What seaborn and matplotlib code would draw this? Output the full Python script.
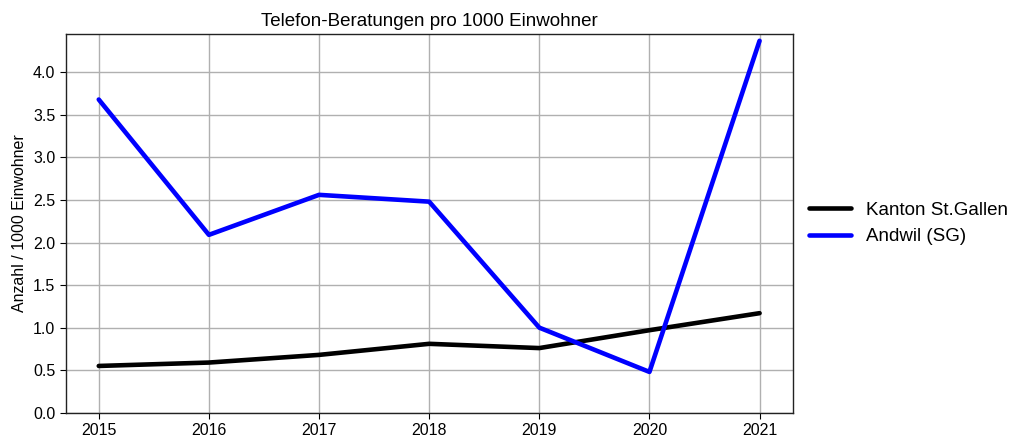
import matplotlib
matplotlib.use("Agg")
import matplotlib.pyplot as plt
import seaborn as sns
import pandas as pd

years = [2015, 2016, 2017, 2018, 2019, 2020, 2021]
kanton = [0.55, 0.59, 0.68, 0.81, 0.76, 0.97, 1.17]
andwil = [3.68, 2.09, 2.56, 2.48, 1.00, 0.48, 4.37]

df = pd.DataFrame({
    "Jahr": years * 2,
    "Wert": kanton + andwil,
    "Region": ["Kanton St.Gallen"] * len(years) + ["Andwil (SG)"] * len(years),
})

sns.set_style("ticks")
plt.rcParams['font.family'] = ['Liberation Sans', 'DejaVu Sans']
plt.rcParams['text.color'] = 'black'
plt.rcParams['axes.labelcolor'] = 'black'

fig = plt.figure(figsize=(10.11, 4.41), dpi=100)
ax = fig.add_axes([0.065, 0.064, 0.719, 0.859])

sns.lineplot(data=df, x="Jahr", y="Wert", hue="Region",
             palette={"Kanton St.Gallen": "black", "Andwil (SG)": "blue"},
             linewidth=3.3, ax=ax)

ax.grid(True, color="#b0b0b0", linewidth=1)
ax.set_axisbelow(True)
ax.set_ylim(0, 4.45)
yt = [0, 0.5, 1.0, 1.5, 2.0, 2.5, 3.0, 3.5, 4.0]
ax.set_yticks(yt)
ax.set_yticklabels([f"{v:.1f}" for v in yt])
ax.set_xticks(years)
ax.set_xlim(2014.7, 2021.3)
ax.tick_params(labelsize=11.5, colors="black", direction="out", length=4)
for s in ax.spines.values():
    s.set_color("#222222")
    s.set_linewidth(1)

ax.set_xlabel("")
ax.set_ylabel("Anzahl / 1000 Einwohner", fontsize=11.5)
ax.set_title("Telefon-Beratungen pro 1000 Einwohner", fontsize=13.5)

ax.legend(loc="center left", bbox_to_anchor=(1.0, 0.5), frameon=False,
          fontsize=13.5, handlelength=2.2)

fig.savefig("out.png", dpi=100)
